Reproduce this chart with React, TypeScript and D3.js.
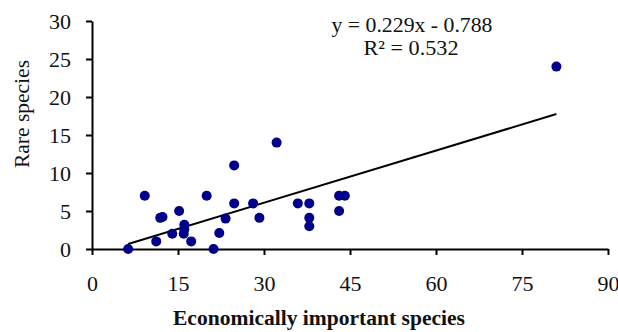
import { useEffect, useRef } from 'react';
import * as d3 from 'd3';

// Economically important species (x) vs rare species (y)
const economic = [6.3, 9.2, 11.2, 11.9, 12.3, 14, 15.2, 16, 16.1, 16.1, 17.3, 20, 21.2, 22.2, 23.3, 24.8, 24.8, 28.1, 29.2, 32.2, 35.9, 37.9, 37.9, 37.9, 43.1, 44.1, 43.1, 81];
const rare = [0, 7, 1, 4.1, 4.2, 2, 5, 2, 2.6, 3.2, 1, 7, 0, 2.1, 4, 11, 6, 6, 4.1, 14, 6, 6, 4.1, 3, 7, 7, 5, 24];
const xTicks = [0, 15, 30, 45, 60, 75, 90];
const yTicks = [0, 5, 10, 15, 20, 25, 30];
const slope = 0.229;
const intercept = -0.788;
const equation = 'y = 0.229x - 0.788';
const rSquared = 'R² = 0.532';

export default function App() {
  const svgRef = useRef<SVGSVGElement>(null);
  const width = 618;
  const height = 332;

  useEffect(() => {
    if (!svgRef.current) return;
    const svg = d3.select(svgRef.current);
    svg.selectAll('*').remove();

    const margin = { top: 21, right: 10, bottom: 83, left: 92 };
    const innerWidth = width - margin.left - margin.right;
    const innerHeight = height - margin.top - margin.bottom;

    const g = svg.append('g').attr('transform', `translate(${margin.left}, ${margin.top})`);

    const x = d3.scaleLinear().domain([0, 90]).range([0, innerWidth]);
    const y = d3.scaleLinear().domain([0, 30]).range([innerHeight, 0]);

    const font = '"Liberation Serif", "Times New Roman", serif';

    // Axes
    const xAxis = g.append('g')
      .attr('transform', `translate(0, ${innerHeight})`)
      .call(d3.axisBottom(x).tickValues(xTicks).tickSize(6).tickSizeOuter(0).tickPadding(20));
    const yAxis = g.append('g')
      .call(d3.axisLeft(y).tickValues(yTicks).tickSize(6).tickSizeOuter(0).tickPadding(15));

    [xAxis, yAxis].forEach(ax => {
      ax.select('.domain').attr('stroke', '#000').attr('stroke-width', 2);
      ax.selectAll('.tick line').attr('stroke', '#000').attr('stroke-width', 2);
      ax.selectAll('text')
        .attr('fill', '#111')
        .style('font-family', font)
        .style('font-size', '22px');
    });

    // Regression line across the data range
    const [xMin, xMax] = d3.extent(economic) as [number, number];
    const line = d3.line<number>().x(d => x(d)).y(d => y(slope * d + intercept));
    g.append('path')
      .datum([xMin, xMax])
      .attr('d', line)
      .attr('fill', 'none')
      .attr('stroke', '#000')
      .attr('stroke-width', 2);

    // Points
    g.selectAll('circle')
      .data(economic.map((e, i) => ({ e, r: rare[i] })))
      .enter()
      .append('circle')
      .attr('cx', d => x(d.e))
      .attr('cy', d => y(d.r))
      .attr('r', 5)
      .attr('fill', '#00008b');

    // Equation
    svg.append('text')
      .attr('x', 412)
      .attr('y', 32)
      .attr('text-anchor', 'middle')
      .attr('textLength', 161)
      .attr('lengthAdjust', 'spacingAndGlyphs')
      .style('font-family', font)
      .style('font-size', '21px')
      .attr('fill', '#111')
      .text(equation);
    svg.append('text')
      .attr('x', 411)
      .attr('y', 55)
      .attr('text-anchor', 'middle')
      .attr('textLength', 95)
      .attr('lengthAdjust', 'spacingAndGlyphs')
      .style('font-family', font)
      .style('font-size', '21px')
      .attr('fill', '#111')
      .text(rSquared);

    // Axis titles
    svg.append('text')
      .attr('transform', 'translate(29, 114) rotate(-90)')
      .attr('text-anchor', 'middle')
      .attr('textLength', 108)
      .attr('lengthAdjust', 'spacingAndGlyphs')
      .style('font-family', font)
      .style('font-size', '20px')
      .attr('fill', '#111')
      .text('Rare species');
    svg.append('text')
      .attr('x', 319)
      .attr('y', 325)
      .attr('text-anchor', 'middle')
      .attr('textLength', 292)
      .attr('lengthAdjust', 'spacingAndGlyphs')
      .style('font-family', font)
      .style('font-size', '20px')
      .style('font-weight', 'bold')
      .attr('fill', '#111')
      .text('Economically important species');
  }, []);

  return (
    <svg
      ref={svgRef}
      width={width}
      height={height}
      style={{ position: 'absolute', left: 0, top: 0, background: '#fff' }}
    ></svg>
  );
}
